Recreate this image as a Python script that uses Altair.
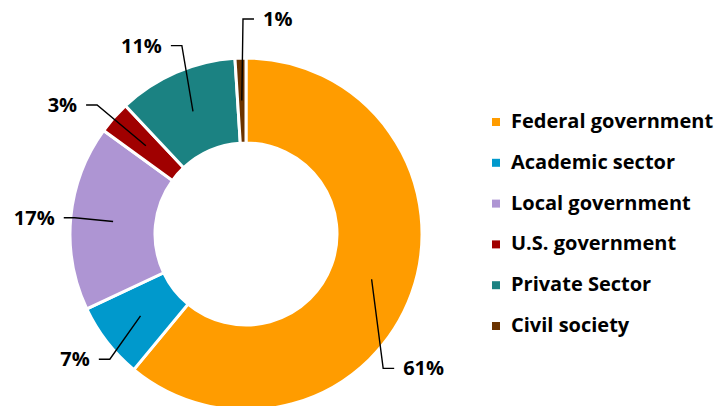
import math
import altair as alt
import pandas as pd

# ---- data ----
categories = ["Federal government", "Academic sector", "Local government",
              "U.S. government", "Private Sector", "Civil society"]
values = [61, 7, 17, 3, 11, 1]
labels = ["61%", "7%", "17%", "3%", "11%", "1%"]
colors = ["#FF9C00", "#0099CC", "#AE95D3", "#A00000", "#1B8282", "#6A3300"]

# ---- layout ----
W, H = 714, 406
CX, CY = 246, 234
R_IN, R_OUT = 91, 176
LEAD_R = (R_IN + R_OUT) / 2
elbow_deg = [134.4, 227.4, 275.4, 310.9, 341.2, 359.2]
elbow_r = [192, 185, 172, 197, 199, 215]
side = ["right", "left", "left", "left", "left", "right"]
FONT = "Open Sans"
FS = 20

df = pd.DataFrame({"cat": categories, "value": values, "idx": range(len(values))})

total = sum(values)
lines, texts = [], []
cum = 0
for i, v in enumerate(values):
    mid = (cum + v / 2) / total * 2 * math.pi
    cum += v
    x0 = CX + LEAD_R * math.sin(mid)
    y0 = CY - LEAD_R * math.cos(mid)
    a = math.radians(elbow_deg[i])
    x1 = CX + elbow_r[i] * math.sin(a)
    y1 = CY - elbow_r[i] * math.cos(a)
    s = 1 if side[i] == "right" else -1
    x2 = x1 + s * 11
    for k, (px, py) in enumerate([(x0, y0), (x1, y1), (x2, y1)]):
        lines.append({"id": i, "k": k, "x": px, "y": py})
    texts.append({"label": labels[i], "x": x2 + s * 9, "y": y1 + 1, "side": side[i]})

ldf = pd.DataFrame(lines)
tdf = pd.DataFrame(texts)

xs = alt.Scale(domain=[0, W], range=[0, W])
ys = alt.Scale(domain=[0, H], range=[0, H])

arcs = alt.Chart(df).mark_arc(
    innerRadius=R_IN, outerRadius=R_OUT, stroke="white", strokeWidth=3
).encode(
    theta=alt.Theta("value:Q", stack=True),
    order=alt.Order("idx:Q"),
    color=alt.Color(
        "cat:N",
        scale=alt.Scale(domain=categories, range=colors),
        legend=alt.Legend(
            title=None, orient="none", legendX=486, legendY=112,
            symbolType="square", symbolSize=64, symbolStrokeWidth=0,
            labelFont=FONT, labelFontWeight="bold", labelFontSize=FS,
            labelColor="#000000", labelOffset=5, rowPadding=20.8, padding=0,
            labelLimit=300,
        ),
    ),
    x=alt.value(CX),
    y=alt.value(CY),
)

leaders = alt.Chart(ldf).mark_line(color="black", strokeWidth=1.4).encode(
    x=alt.X("x:Q", scale=xs, axis=None),
    y=alt.Y("y:Q", scale=ys, axis=None),
    detail="id:N",
    order="k:Q",
)

txt_l = alt.Chart(tdf).transform_filter(alt.datum.side == "left").mark_text(
    align="right", baseline="middle", font=FONT, fontWeight="bold", fontSize=FS, color="black"
).encode(x=alt.X("x:Q", scale=xs, axis=None), y=alt.Y("y:Q", scale=ys, axis=None), text="label:N")

txt_r = alt.Chart(tdf).transform_filter(alt.datum.side == "right").mark_text(
    align="left", baseline="middle", font=FONT, fontWeight="bold", fontSize=FS, color="black"
).encode(x=alt.X("x:Q", scale=xs, axis=None), y=alt.Y("y:Q", scale=ys, axis=None), text="label:N")

chart = alt.layer(arcs, leaders, txt_l, txt_r).properties(
    width=W, height=H, autosize=alt.AutoSizeParams(type="none"), padding=0
).configure_view(stroke=None)

chart.save("out.html", embed_options={"renderer": "svg", "actions": False})
